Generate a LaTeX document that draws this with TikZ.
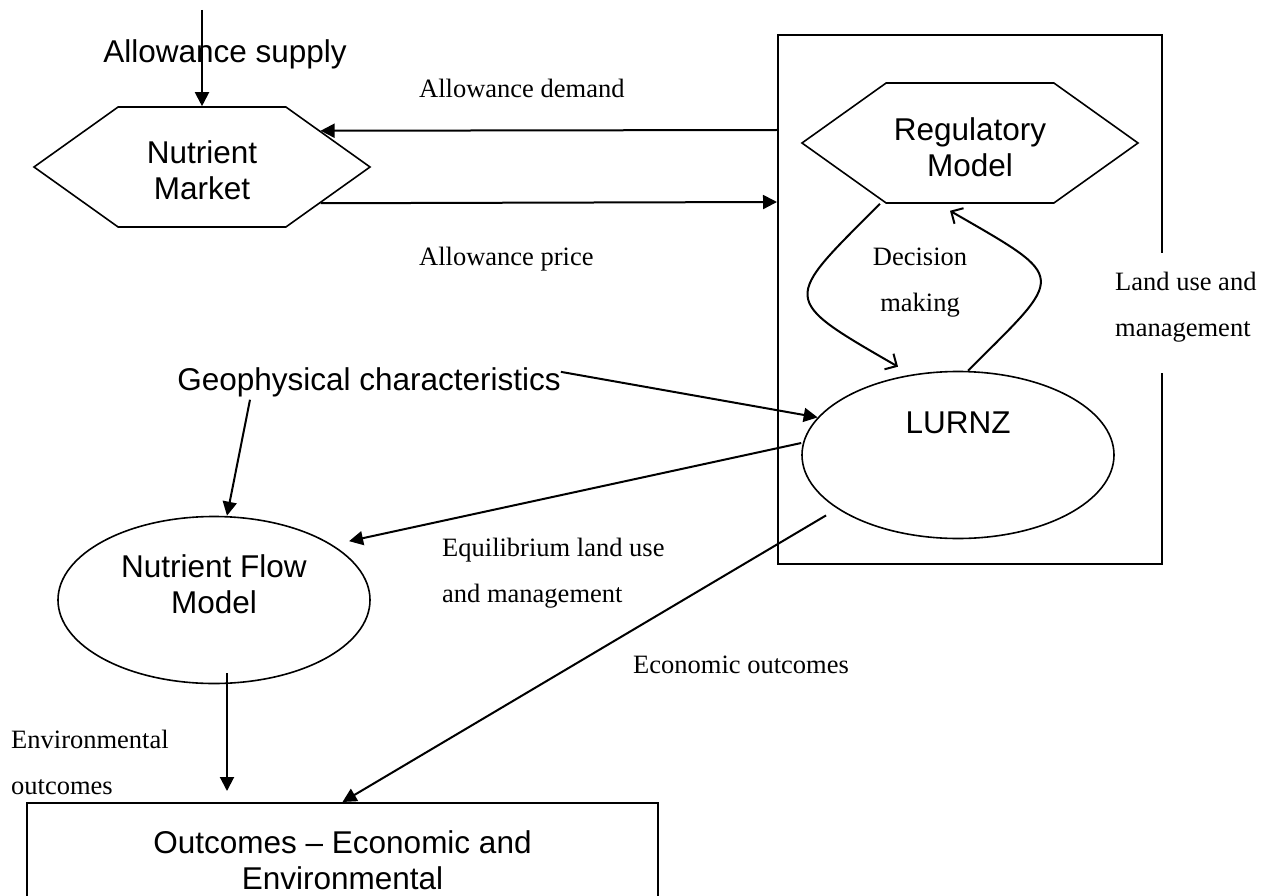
\documentclass[tikz,border=0pt]{standalone}
\usepackage{fontspec}
\setmainfont{Liberation Serif}
\newfontfamily\arialfont{Liberation Sans}
\usetikzlibrary{shapes.geometric}
\usetikzlibrary{shapes.symbols}
\usetikzlibrary{arrows.meta}
\newcommand{\bigsans}{\arialfont\fontsize{31.5pt}{36pt}\selectfont}
\newcommand{\smallserif}{\fontsize{26.5pt}{46pt}\selectfont}

\begin{document}
\begin{tikzpicture}[x=1pt,y=-1pt,
	hexa/.style={signal, signal to=east and west, signal pointer angle=71, draw, line width=1.6pt, minimum width=336pt, minimum height=120pt, inner sep=0pt, font=\bigsans, align=center},
	oval/.style={ellipse, draw, line width=1.6pt, minimum width=312pt, minimum height=167pt, inner sep=0pt, font=\bigsans, align=center},
	arr/.style={line width=2pt, -{Triangle[length=14pt,width=14pt]}},
	barb/.style={line width=2pt, -{Straight Barb[length=9pt,width=18pt]}},
	lbl/.style={font=\smallserif, align=left, inner sep=0pt},
	twoline/.style={text height=64pt, text depth=18pt}]
		\useasboundingbox (0,0) rectangle (1268,896);

		% Market and supply
		\node (mkt) at (202,167) [hexa, text height=72pt, text depth=6pt] {Nutrient\\Market};
		\node (suptext) at (225,63) [font=\bigsans, anchor=base, inner sep=0pt] {Allowance supply};
		\coordinate (suptop) at (202,10);
		\draw [arr] (suptop) -- (mkt.north);

		% Regulatory frame with model and LURNZ
		\node (frame) at (970,299.5) [draw, line width=2pt, minimum width=384pt, minimum height=529pt] {};
		\node (reg) at (970,143) [hexa, text height=74pt, text depth=6pt] {Regulatory\\Model};
		\node (lurnz) at (958,455) [oval, text height=23pt, text depth=67pt] {LURNZ};
		\node (landuse) at (1115,313) [lbl, twoline, anchor=west, fill=white, minimum height=120pt] {Land use and\\management};

		% Trade between market and regulator
		\draw [arr] ([yshift=-96pt]frame.north west) -- (mkt.17);
		\draw [arr] (mkt.-17) -- ([yshift=-168pt]frame.north west);
		\node (demand) at (419,98) [lbl, anchor=base west] {Allowance demand};
		\node (price) at (419,265) [lbl, anchor=base west] {Allowance price};

		% Decision loop
		\draw [barb] ([xshift=-90pt]reg.south) to[out=225,in=150,looseness=2.15] ([xshift=-60pt,yshift=4pt]lurnz.north);
		\draw [barb] ([xshift=10pt]lurnz.north) to[out=45,in=-30,looseness=2.2] ([xshift=-20pt,yshift=-7pt]reg.south);
		\node (decision) at (920,288) [lbl, twoline, align=center] {Decision\\making};

		% Geophysical input
		\node (geo) at (369,390) [font=\bigsans, anchor=base, inner sep=0pt] {Geophysical characteristics};
		\node (nfm) at (214,600) [oval, text height=32pt, text depth=6pt] {Nutrient Flow\\Model};
		\draw [arr] ([yshift=10pt]geo.east) -- (lurnz.165);
		\draw [arr] ([xshift=-119pt,yshift=-3pt]geo.south) -- ([xshift=13pt]nfm.north);

		% Land use to nutrient model
		\draw [arr, shorten >=17pt] ([yshift=12pt]lurnz.west) -- (nfm.25);
		\node (equil) at (442,579) [lbl, twoline, anchor=west] {Equilibrium land use\\and management};

		% Outcomes
		\node (outbox) at (342.5,903) [draw, line width=2pt, minimum width=631pt, minimum height=200pt, font=\bigsans, align=center, text height=23pt, text depth=51pt] {Outcomes – Economic and\\Environmental};
		\coordinate (envtip) at ([xshift=-115.5pt,yshift=11pt]outbox.north);
		\draw [arr] ([xshift=13pt,yshift=11pt]nfm.south) -- (envtip);
		\draw [arr, shorten <=13pt] (lurnz.204) -- (outbox.north);
		\node (econ) at (633,673) [lbl, anchor=base west] {Economic outcomes};
		\node (env) at (11,771) [lbl, twoline, anchor=west] {Environmental\\outcomes};
\end{tikzpicture}
\end{document}
